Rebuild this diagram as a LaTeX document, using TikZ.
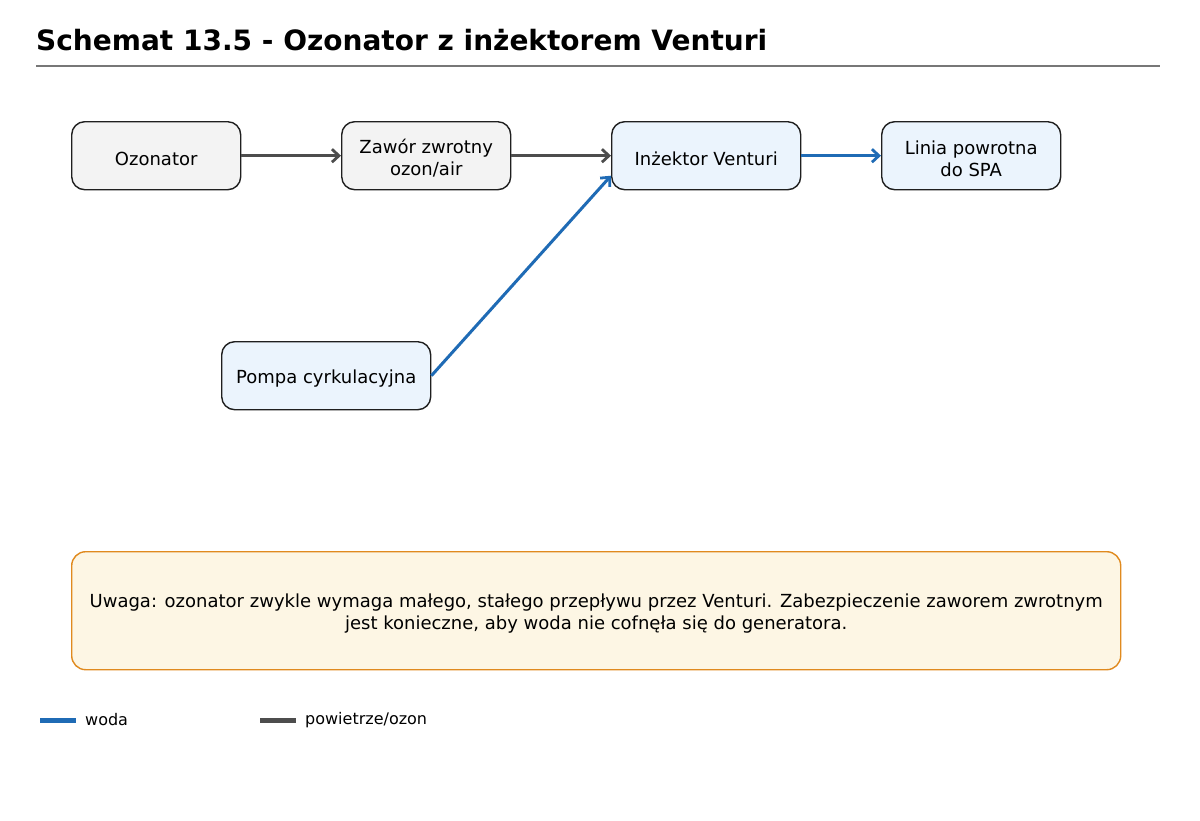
\documentclass[tikz,border=0pt]{standalone}
\usepackage{fontspec}
\setmainfont{DejaVu Sans}
\usetikzlibrary{arrows.meta}
\definecolor{air}{HTML}{4D4D4D}
\definecolor{water}{HTML}{1F6BB5}
\definecolor{grayfill}{HTML}{F3F3F3}
\definecolor{bluefill}{HTML}{EBF4FD}
\definecolor{notefill}{HTML}{FDF6E4}
\definecolor{noteline}{HTML}{E08A1E}
\definecolor{rulegray}{HTML}{777777}
\newcommand\lowerstrut{\rule{0pt}{20pt}}
\tikzset{
  box/.style={draw=black!88, line width=1.4pt, rounded corners=13pt, align=center,
    font=\fontsize{18}{22}\selectfont, inner sep=0pt, anchor=north west},
  airbox/.style={box, fill=grayfill},
  waterbox/.style={box, fill=bluefill},
  airline/.style={draw=air, line width=3.5pt, -{Straight Barb[length=7pt,width=13pt,line width=2.8pt]}},
  waterline/.style={draw=water, line width=3pt, -{Straight Barb[length=7pt,width=13pt,line width=2.8pt]}},
}
\begin{document}
\begin{tikzpicture}[x=1pt,y=-1pt]
\useasboundingbox[fill=white] (0,0) rectangle (1200,820);
\node[anchor=base west, font=\bfseries\fontsize{28}{32}\selectfont, inner sep=0pt] (title) at (36,50) {Schemat 13.5 - Ozonator z inżektorem Venturi};
\draw[rulegray, line width=1.5pt] (36,66) -- (1160,66);

\node[airbox, minimum width=169pt, minimum height=68pt] (ozon) at (71,121) {\lowerstrut Ozonator};
\node[airbox, minimum width=169pt, minimum height=68pt] (zawor) at (341,121) {\lowerstrut Zawór zwrotny\\ozon/air};
\node[waterbox, minimum width=189pt, minimum height=68pt] (inz) at (611,121) {\lowerstrut Inżektor Venturi};
\node[waterbox, minimum width=179pt, minimum height=68pt] (linia) at (881,121) {\lowerstrut Linia powrotna\\do SPA};
\node[waterbox, minimum width=209pt, minimum height=68pt] (pompa) at (221,341) {\lowerstrut Pompa cyrkulacyjna};

\draw[airline] (ozon.east) -- (zawor.west);
\draw[airline] (zawor.east) -- (inz.west);
\draw[waterline] (inz.east) -- (linia.west);
\coordinate (inzin) at ([yshift=-20pt]inz.west);
\draw[waterline] (pompa.east) -- (inzin);

\node[box, draw=noteline, fill=notefill, line width=1.4pt, rounded corners=14pt, minimum width=1049pt, minimum height=118pt] (note) at (71,551) {\lowerstrut Uwaga: ozonator zwykle wymaga małego, stałego przepływu przez Venturi. Zabezpieczenie zaworem zwrotnym\\jest konieczne, aby woda nie cofnęła się do generatora.};

\coordinate (lw1) at (40,720);
\coordinate (lw2) at (76,720);
\coordinate (la1) at (260,720);
\coordinate (la2) at (296,720);
\draw[water, line width=5pt] (lw1) -- (lw2);
\draw[air, line width=5pt] (la1) -- (la2);
\node[anchor=west, font=\fontsize{16}{19}\selectfont, inner sep=0pt] (lwt) at (85,720) {woda};
\node[anchor=west, font=\fontsize{16}{19}\selectfont, inner sep=0pt] (lat) at (305,720) {powietrze/ozon};
\end{tikzpicture}
\end{document}
